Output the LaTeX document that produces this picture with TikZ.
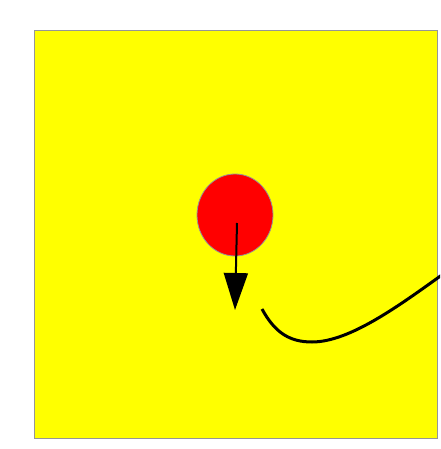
\documentclass[tikz,border=0pt]{standalone}
\usetikzlibrary{arrows.meta,shapes.geometric}
\definecolor{fieldyellow}{RGB}{255,255,0}
\definecolor{edgegray}{RGB}{150,150,150}
\tikzset{
  field/.style={draw=edgegray, fill=fieldyellow, line width=1pt},
  ball/.style={ellipse, draw=edgegray, fill=red, line width=.8pt,
    minimum width=76pt, minimum height=82pt, inner sep=0pt},
  pointer/.style={-{Triangle[length=37pt, width=24pt]}, line width=2pt},
  track/.style={line width=3pt}
}
\begin{document}
\begin{tikzpicture}[x=1pt, y=-1pt]
  \useasboundingbox (0,0) rectangle (440,449);
  \clip (0,0) rectangle (440,449);
  \draw[field] (34,31) rectangle (437,438);
  \node[ball] (ball) at (235,215) {};
  \coordinate (shaftstart) at (237,223);
  \coordinate (tip) at (235,310);
  \draw[pointer] (shaftstart) -- (tip);
  \coordinate (trackstart) at (262,309);
  \coordinate (trackbottom) at (312,342);
  \coordinate (trackend) at (446,272);
  \draw[track] (trackstart) .. controls (275,333) and (290,342) .. (trackbottom)
    .. controls (350,342) and (400,305) .. (trackend);
\end{tikzpicture}
\end{document}
